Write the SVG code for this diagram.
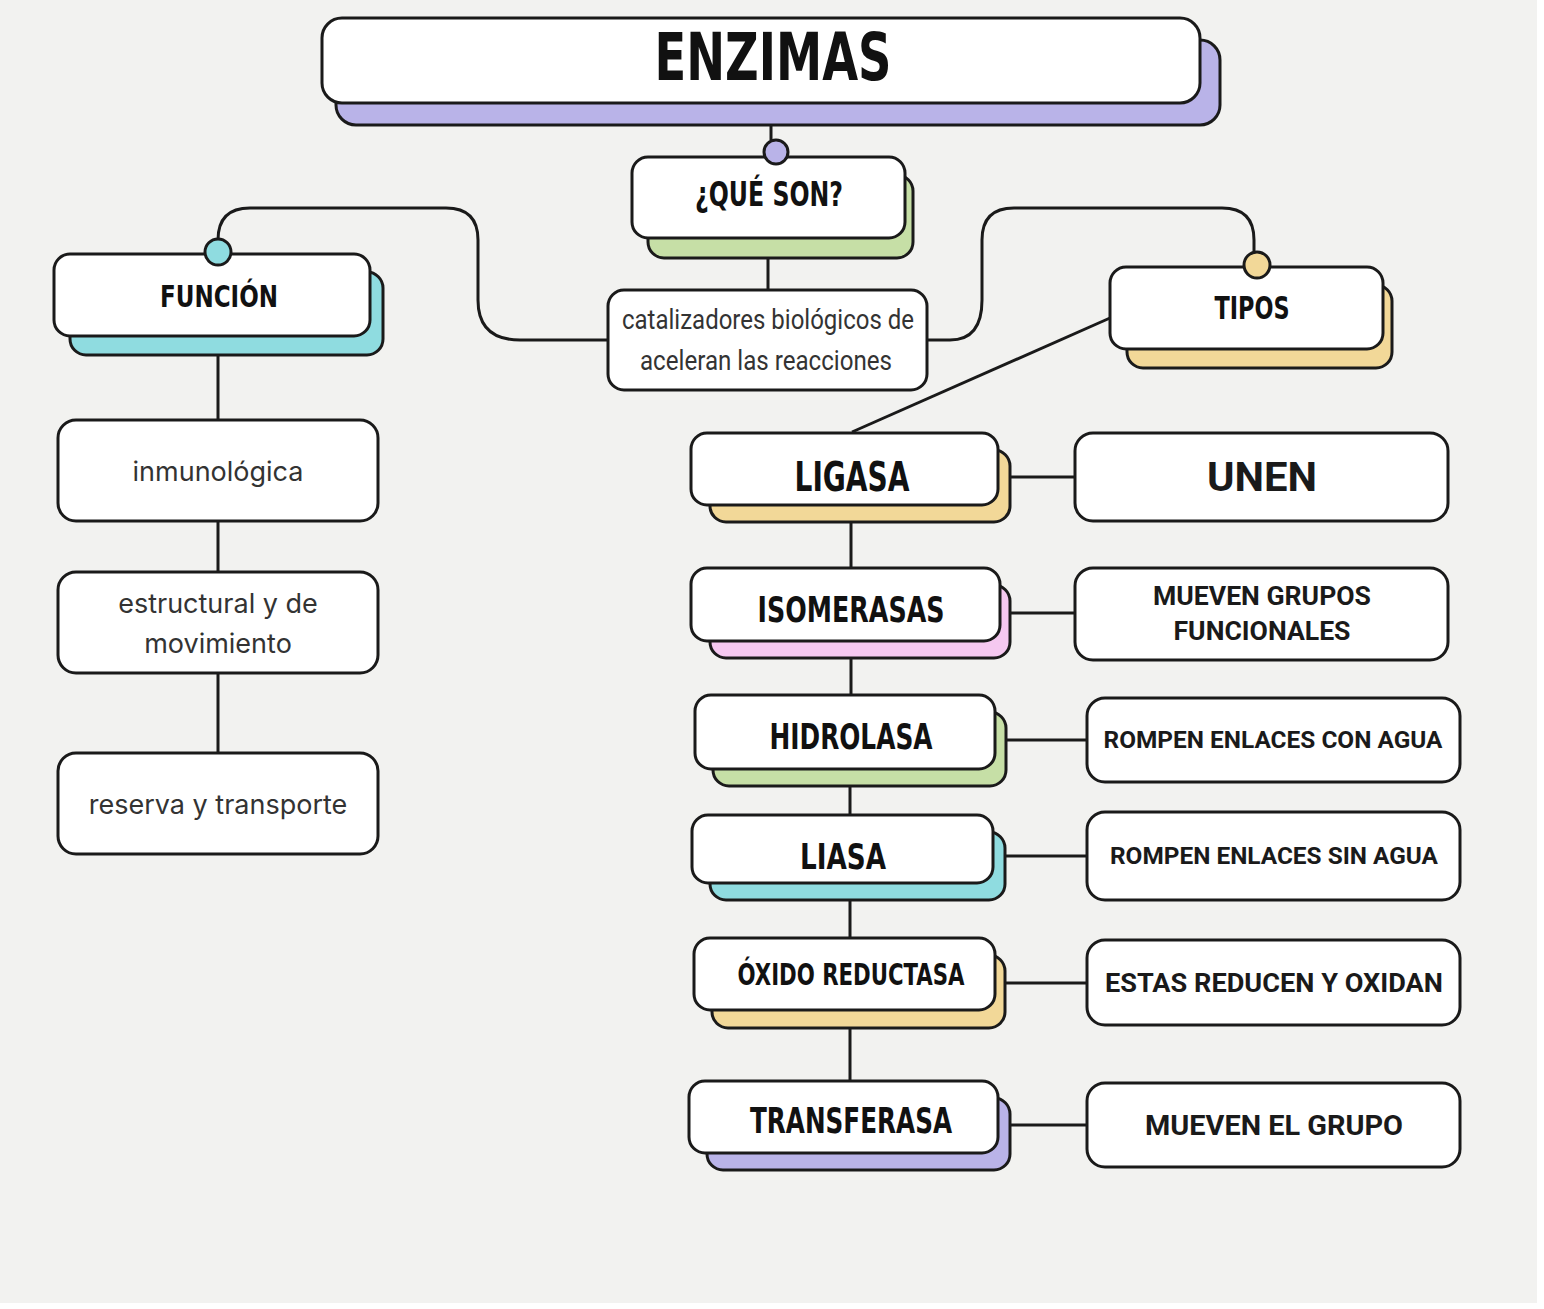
<svg xmlns="http://www.w3.org/2000/svg" width="1544" height="1309" viewBox="0 0 1544 1309">
<style>
.box{fill:#fff;stroke:#1a1a1a;stroke-width:3}
.sh{stroke:#1a1a1a;stroke-width:3}
.ln{fill:none;stroke:#1a1a1a;stroke-width:3}
.hd{font-family:"DejaVu Sans Condensed","DejaVu Sans",sans-serif;font-weight:bold;fill:#111;text-anchor:middle;dominant-baseline:central}
.rt{font-family:Roboto,"Liberation Sans",sans-serif;font-weight:bold;fill:#1a1a1a;text-anchor:middle;dominant-baseline:central}
.lt{font-family:Inter,"Liberation Sans",sans-serif;fill:#333;font-size:27px;text-anchor:middle;dominant-baseline:central}
.purple{fill:#b9b3e8}.green{fill:#c6dfa6}.cyan{fill:#8fdce0}.yellow{fill:#f2d898}.pink{fill:#f5c8f0}
</style>
<rect width="1544" height="1309" fill="#fff"/>
<rect x="0" y="0" width="1537" height="1303" fill="#f2f2f0"/>
<g id="connectors">
<line class="ln" x1="771" y1="103" x2="771" y2="140"/>
<line class="ln" x1="768" y1="258" x2="768" y2="290"/>
<path class="ln" d="M608 340 H520 Q478 340 478 300 V240 Q478 208 446 208 H250 Q218 208 218 240"/>
<path class="ln" d="M927 340 H950 Q982 340 982 300 V240 Q982 208 1014 208 H1222 Q1254 208 1254 240 V252"/>
<line class="ln" x1="1110" y1="318" x2="852" y2="432"/>
<line class="ln" x1="218" y1="355" x2="218" y2="420"/>
<line class="ln" x1="218" y1="521" x2="218" y2="572"/>
<line class="ln" x1="218" y1="673" x2="218" y2="753"/>
<line class="ln" x1="851" y1="522" x2="851" y2="568"/>
<line class="ln" x1="851" y1="658" x2="851" y2="695"/>
<line class="ln" x1="850" y1="786" x2="850" y2="815"/>
<line class="ln" x1="850" y1="900" x2="850" y2="938"/>
<line class="ln" x1="850" y1="1028" x2="850" y2="1081"/>
<line class="ln" x1="1010" y1="477" x2="1075" y2="477"/>
<line class="ln" x1="1010" y1="613" x2="1075" y2="613"/>
<line class="ln" x1="1006" y1="740" x2="1087" y2="740"/>
<line class="ln" x1="1005" y1="856" x2="1087" y2="856"/>
<line class="ln" x1="1005" y1="983" x2="1087" y2="983"/>
<line class="ln" x1="1010" y1="1125" x2="1087" y2="1125"/>
</g>
<g id="enzimas">
<rect class="sh purple" x="336" y="40" width="884" height="85" rx="20"/>
<rect class="box" x="322" y="18" width="878" height="85" rx="20"/>
<text class="hd" x="773" y="57" font-size="66" textLength="237" lengthAdjust="spacingAndGlyphs">ENZIMAS</text>
</g>
<g id="que-son">
<rect class="sh green" x="648" y="175" width="265" height="83" rx="16"/>
<rect class="box" x="632" y="157" width="273" height="81" rx="16"/>
<text class="hd" x="769" y="194" font-size="34" textLength="148" lengthAdjust="spacingAndGlyphs">¿QUÉ SON?</text>
</g>
<g id="catalizadores">
<rect class="box" x="608" y="290" width="319" height="100" rx="16"/>
<text class="lt" x="768" y="320" textLength="292" lengthAdjust="spacingAndGlyphs" fill="#222" style="font-family:Roboto,'Liberation Sans',sans-serif">catalizadores biológicos de</text>
<text class="lt" x="766" y="361" textLength="252" lengthAdjust="spacingAndGlyphs" fill="#222" style="font-family:Roboto,'Liberation Sans',sans-serif">aceleran las reacciones</text>
</g>
<g id="funcion">
<rect class="sh cyan" x="70" y="272" width="313" height="83" rx="16"/>
<rect class="box" x="54" y="254" width="316" height="82" rx="16"/>
<text class="hd" x="219" y="296" font-size="31" textLength="118" lengthAdjust="spacingAndGlyphs">FUNCIÓN</text>
</g>
<g id="tipos">
<rect class="sh yellow" x="1127" y="285" width="265" height="83" rx="16"/>
<rect class="box" x="1110" y="267" width="273" height="82" rx="16"/>
<text class="hd" x="1252" y="308" font-size="32" textLength="75" lengthAdjust="spacingAndGlyphs">TIPOS</text>
</g>
<g id="inmunologica">
<rect class="box" x="58" y="420" width="320" height="101" rx="18"/>
<text class="lt" x="218" y="471">inmunológica</text>
</g>
<g id="estructural">
<rect class="box" x="58" y="572" width="320" height="101" rx="18"/>
<text class="lt" x="218" y="603">estructural y de</text>
<text class="lt" x="218" y="643">movimiento</text>
</g>
<g id="reserva">
<rect class="box" x="58" y="753" width="320" height="101" rx="18"/>
<text class="lt" x="218" y="804">reserva y transporte</text>
</g>
<g id="ligasa">
<rect class="sh yellow" x="710" y="450" width="300" height="72" rx="16"/>
<rect class="box" x="691" y="433" width="307" height="72" rx="16"/>
<text class="hd" x="852" y="477" font-size="40" textLength="115" lengthAdjust="spacingAndGlyphs">LIGASA</text>
</g>
<g id="unen">
<rect class="box" x="1075" y="433" width="373" height="88" rx="18"/>
<text class="rt" x="1262" y="477" font-size="40" textLength="110" lengthAdjust="spacingAndGlyphs">UNEN</text>
</g>
<g id="isomerasas">
<rect class="sh pink" x="710" y="585" width="300" height="73" rx="16"/>
<rect class="box" x="691" y="568" width="309" height="73" rx="16"/>
<text class="hd" x="851" y="609" font-size="36" textLength="187" lengthAdjust="spacingAndGlyphs">ISOMERASAS</text>
</g>
<g id="mueven-grupos">
<rect class="box" x="1075" y="568" width="373" height="92" rx="18"/>
<text class="rt" x="1262" y="596" font-size="25" textLength="218" lengthAdjust="spacingAndGlyphs">MUEVEN GRUPOS</text>
<text class="rt" x="1262" y="631" font-size="25" textLength="177" lengthAdjust="spacingAndGlyphs">FUNCIONALES</text>
</g>
<g id="hidrolasa">
<rect class="sh green" x="713" y="712" width="293" height="74" rx="16"/>
<rect class="box" x="695" y="695" width="300" height="74" rx="16"/>
<text class="hd" x="851" y="736" font-size="36" textLength="163" lengthAdjust="spacingAndGlyphs">HIDROLASA</text>
</g>
<g id="rompen-con">
<rect class="box" x="1087" y="698" width="373" height="84" rx="18"/>
<text class="rt" x="1273" y="740" font-size="24" textLength="339" lengthAdjust="spacingAndGlyphs">ROMPEN ENLACES CON AGUA</text>
</g>
<g id="liasa">
<rect class="sh cyan" x="710" y="832" width="295" height="68" rx="16"/>
<rect class="box" x="692" y="815" width="301" height="68" rx="16"/>
<text class="hd" x="843" y="856" font-size="36" textLength="86" lengthAdjust="spacingAndGlyphs">LIASA</text>
</g>
<g id="rompen-sin">
<rect class="box" x="1087" y="812" width="373" height="88" rx="18"/>
<text class="rt" x="1274" y="856" font-size="24" textLength="328" lengthAdjust="spacingAndGlyphs">ROMPEN ENLACES SIN AGUA</text>
</g>
<g id="oxido">
<rect class="sh yellow" x="712" y="955" width="293" height="73" rx="16"/>
<rect class="box" x="694" y="938" width="301" height="72" rx="16"/>
<text class="hd" x="851" y="974" font-size="30" textLength="227" lengthAdjust="spacingAndGlyphs">ÓXIDO REDUCTASA</text>
</g>
<g id="estas">
<rect class="box" x="1087" y="940" width="373" height="85" rx="18"/>
<text class="rt" x="1274" y="983" font-size="25" textLength="338" lengthAdjust="spacingAndGlyphs">ESTAS REDUCEN Y OXIDAN</text>
</g>
<g id="transferasa">
<rect class="sh purple" x="707" y="1098" width="303" height="72" rx="16"/>
<rect class="box" x="689" y="1081" width="309" height="72" rx="16"/>
<text class="hd" x="851" y="1120" font-size="36" textLength="202" lengthAdjust="spacingAndGlyphs">TRANSFERASA</text>
</g>
<g id="mueven-el">
<rect class="box" x="1087" y="1083" width="373" height="84" rx="18"/>
<text class="rt" x="1274" y="1125" font-size="28" textLength="258" lengthAdjust="spacingAndGlyphs">MUEVEN EL GRUPO</text>
</g>
<g id="connector-dots">
<circle class="sh purple" cx="776" cy="152" r="12"/>
<circle class="sh cyan" cx="218" cy="252" r="13"/>
<circle class="sh yellow" cx="1257" cy="265" r="13"/>
</g>
</svg>
